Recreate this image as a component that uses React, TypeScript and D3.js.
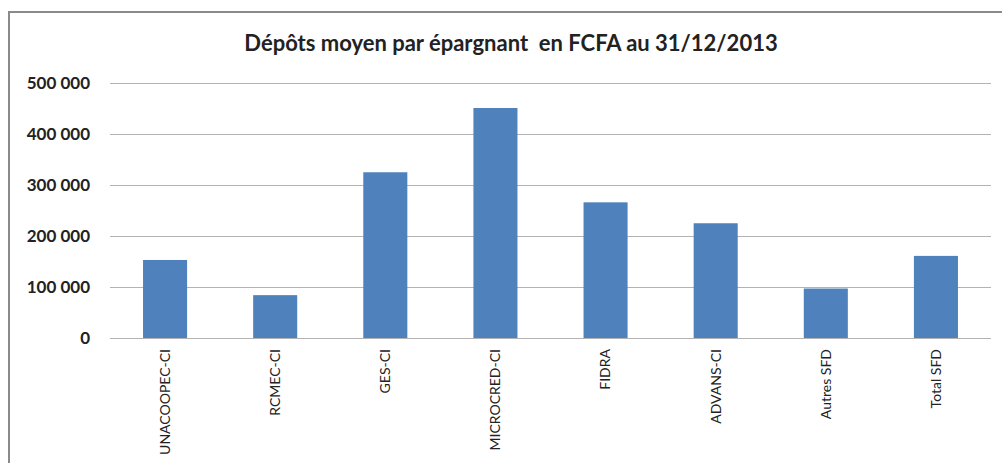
import React, { useEffect, useRef } from "react";
import * as d3 from "d3";

const categories = ["UNACOOPEC-CI", "RCMEC-CI", "GES-CI", "MICROCRED-CI", "FIDRA", "ADVANS-CI", "Autres SFD", "Total SFD"];
const values = [153000, 84000, 325000, 451000, 266000, 225000, 97000, 161000];
const yTicks = [0, 100000, 200000, 300000, 400000, 500000];
const title = "Dépôts moyen par épargnant  en FCFA au 31/12/2013";

const W = 1002;
const H = 463;

export default function App() {
  const ref = useRef<SVGSVGElement>(null);

  useEffect(() => {
    const svg = d3.select(ref.current);
    svg.selectAll("*").remove();

    const font = "Lato, 'Open Sans', sans-serif";

    // chart frame
    svg.append("rect")
      .attr("x", 9).attr("y", 12)
      .attr("width", W + 20).attr("height", H + 20)
      .attr("fill", "#fff")
      .attr("stroke", "#8a8a8a")
      .attr("stroke-width", 2);

    const x = d3.scaleBand().domain(categories).range([110, 991]).paddingInner(0.6).paddingOuter(0.3);
    const y = d3.scaleLinear().domain([0, 500000]).range([338, 83]);

    // gridlines
    svg.append("g")
      .selectAll("line")
      .data(yTicks)
      .join("line")
      .attr("x1", 110).attr("x2", 991)
      .attr("y1", d => Math.round(y(d)) + 0.5)
      .attr("y2", d => Math.round(y(d)) + 0.5)
      .attr("stroke", "#b3b3b3")
      .attr("stroke-width", 1);

    // y labels
    const fmt = (d: number) => d3.format(",")(d).replace(/,/g, " ");
    svg.append("g")
      .selectAll("text")
      .data(yTicks)
      .join("text")
      .attr("x", 90)
      .attr("y", d => y(d))
      .attr("dy", "0.35em")
      .attr("text-anchor", "end")
      .style("font-family", font)
      .style("font-size", "17px")
      .style("font-weight", "bold")
      .attr("fill", "#222")
      .text(d => fmt(d));

    // bars
    svg.append("g")
      .selectAll("rect")
      .data(values)
      .join("rect")
      .attr("x", (d, i) => x(categories[i])!)
      .attr("y", d => y(d))
      .attr("width", x.bandwidth())
      .attr("height", d => y(0) - y(d))
      .attr("fill", "#4f81bd");

    // x labels rotated
    svg.append("g")
      .selectAll("text")
      .data(categories)
      .join("text")
      .attr("transform", d => `translate(${x(d)! + x.bandwidth() / 2}, 349) rotate(-90)`)
      .attr("dy", "0.35em")
      .attr("text-anchor", "end")
      .style("font-family", font)
      .style("font-size", "14px")
      .attr("fill", "#222")
      .text(d => d);

    // title
    svg.append("text")
      .attr("x", 511)
      .attr("y", 51)
      .attr("text-anchor", "middle")
      .style("font-family", font)
      .style("font-size", "22px")
      .style("font-weight", "bold")
      .attr("fill", "#222")
      .style("white-space", "pre")
      .attr("xml:space", "preserve")
      .text(title);
  }, []);

  return (
    <svg ref={ref} width={W} height={H} style={{ position: "absolute", left: 0, top: 0, background: "#fff" }} />
  );
}
